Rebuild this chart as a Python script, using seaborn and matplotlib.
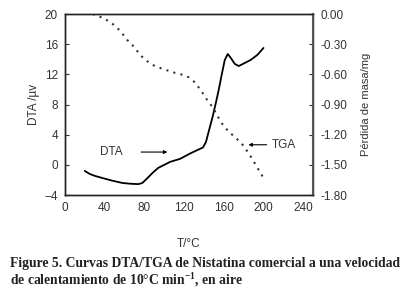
import numpy as np
import pandas as pd
import matplotlib
matplotlib.use("Agg")
from matplotlib import pyplot as plt
import seaborn as sns

# DTA curve (left axis, microvolts)
dta_t = [20, 25, 30, 38, 48, 58, 66, 74, 78, 82, 88, 94, 100, 106, 116, 126,
         134, 139, 142, 145, 149, 152, 155, 158, 161, 164, 167, 171, 175, 181,
         187, 194, 200]
dta_v = [-0.8, -1.2, -1.45, -1.75, -2.1, -2.4, -2.5, -2.55, -2.4, -1.9, -1.1,
         -0.4, 0.0, 0.4, 0.8, 1.5, 2.0, 2.3, 3.0, 4.5, 6.5, 8.2, 10.0, 12.0,
         13.9, 14.7, 14.2, 13.4, 13.1, 13.5, 13.9, 14.6, 15.5]

# TGA curve (right axis, mass loss in mg)
tga_t = [28, 36, 46, 55, 63, 70, 76, 83, 91, 100, 109, 117, 125, 131, 137,
         143, 149, 154, 159, 165, 172, 180, 188, 194, 200]
tga_m = [0.0, -0.03, -0.08, -0.16, -0.26, -0.33, -0.41, -0.47, -0.52, -0.55,
         -0.58, -0.60, -0.63, -0.68, -0.76, -0.85, -0.93, -1.02, -1.10, -1.17,
         -1.23, -1.31, -1.43, -1.53, -1.63]

x_ticks = [0, 40, 80, 120, 160, 200, 240]
left_ticks = [-4, 0, 4, 8, 12, 16, 20]
right_ticks = [-1.8, -1.5, -1.2, -0.9, -0.6, -0.3, 0.0]

caption1 = "Figure 5. Curvas DTA/TGA de Nistatina comercial a una velocidad"
caption2 = r"de calentamiento de 10°C min$^{\mathbf{-1}}$, en aire"

sns.set_style("white")
plt.rcParams['font.family'] = ['Liberation Sans', 'DejaVu Sans']
plt.rcParams['mathtext.fontset'] = 'custom'
plt.rcParams['mathtext.bf'] = 'Liberation Serif:bold'
plt.rcParams['mathtext.rm'] = 'Liberation Serif:bold'

dta = pd.DataFrame({'T': dta_t, 'DTA': dta_v})
tga = pd.DataFrame({'T': tga_t, 'TGA': tga_m})

fig = plt.figure(figsize=(4.03, 2.92), dpi=100)
ax = fig.add_axes([0.161, 0.332, 0.616, 0.620])
ax2 = ax.twinx()

sns.lineplot(data=dta, x='T', y='DTA', ax=ax, color='black', linewidth=1.3,
             sort=False)
sns.lineplot(data=tga, x='T', y='TGA', ax=ax2, color='#333333',
             linewidth=1.5, linestyle=(0, (1, 2.5)), sort=False)

ax.set_xlim(0, 250)
ax.set_ylim(-4, 20)
ax2.set_ylim(-1.8, 0)
ax.set_xticks(x_ticks)
ax.set_yticks(left_ticks)
ax2.set_yticks(right_ticks)
ax2.set_yticklabels(["%.2f" % v for v in right_ticks])

for a in (ax, ax2):
    for s in a.spines.values():
        s.set_color('#222222')
        s.set_linewidth(1.0)
    a.tick_params(direction='in', length=3, width=0.8, labelsize=8.5,
                  colors='#333333', pad=5)
ax2.spines['right'].set_color('#555555')
ax2.spines['right'].set_linewidth(1.5)

ax.set_xlabel("T/°C", fontsize=8.5, labelpad=17, color='#333333')
ax.set_ylabel("DTA /µv", fontsize=8.5, labelpad=3, color='#333333')
ax2.set_ylabel("Pérdida de masa/mg", fontsize=8, labelpad=10, color='#333333')

# annotations
ax.annotate("", xy=(106, 1.7), xytext=(74, 1.7),
            arrowprops=dict(arrowstyle='-|>', color='black', lw=0.8,
                            mutation_scale=5))
ax.text(47, 1.7, "DTA", fontsize=8.5, ha='center', va='center', color='#333333')
ax2.annotate("", xy=(182, -1.30), xytext=(206, -1.30),
             arrowprops=dict(arrowstyle='-|>', color='black', lw=0.8,
                             mutation_scale=5))
ax2.text(208, -1.30, "TGA", fontsize=8.5, ha='left', va='center', color='#333333')

fig.text(0.025, 0.085, caption1, fontsize=9.8, fontweight='bold',
         family='Liberation Serif', ha='left', va='baseline', color='#222222')
fig.text(0.025, 0.025, caption2, fontsize=9.8, fontweight='bold',
         family='Liberation Serif', ha='left', va='baseline', color='#222222')

fig.savefig("out.png", dpi=100)
